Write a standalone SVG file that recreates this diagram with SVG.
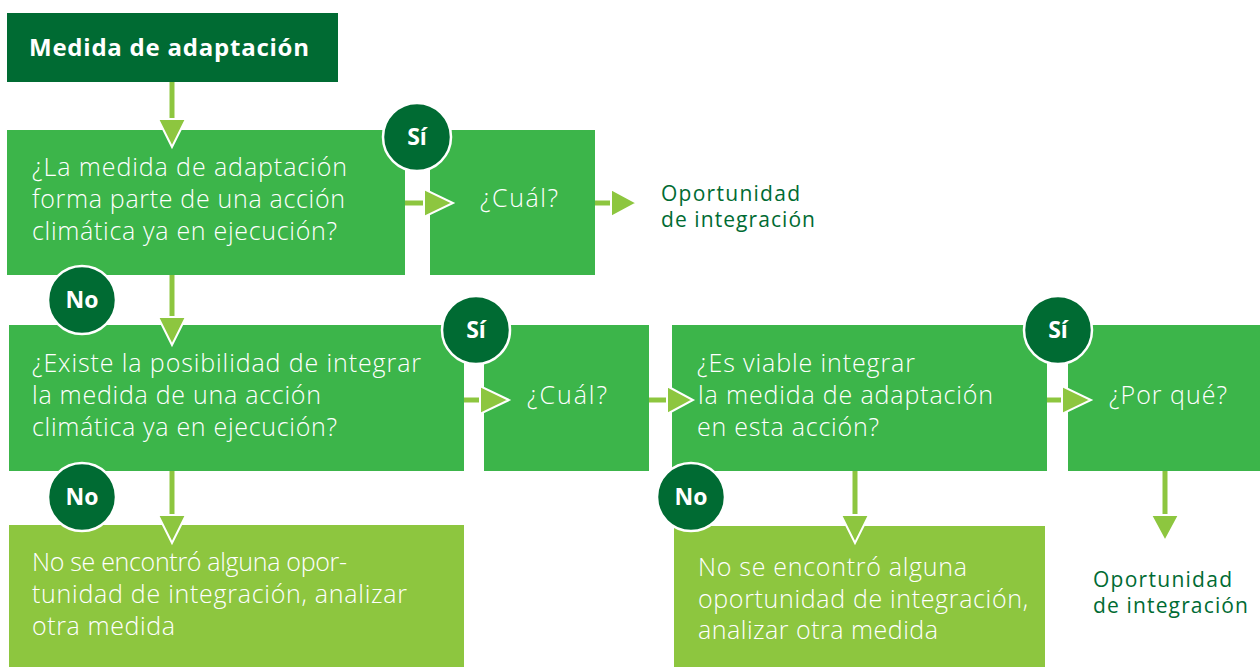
<svg xmlns="http://www.w3.org/2000/svg" width="1260" height="667" viewBox="0 0 1260 667">
<style>
.dark{fill:#006b33}
.mid{fill:#3cb54a}
.light{fill:#8dc63f}
.t{font-family:"Open Sans",sans-serif;font-size:25px;font-weight:300;fill:#ffffff}
.title{font-family:"Open Sans",sans-serif;font-size:24px;font-weight:bold;fill:#ffffff}
.out{font-family:"Open Sans",sans-serif;font-size:21px;font-weight:400;fill:#006b33}
.badge{fill:#006b33;stroke:#ffffff;stroke-width:2.5}
.bt{font-family:"Open Sans",sans-serif;font-size:23px;font-weight:bold;fill:#ffffff;text-anchor:middle}
.ln{stroke:#8dc63f;stroke-width:5;fill:none}
.hd{fill:#8dc63f;stroke:#ffffff;stroke-width:2}
</style>
<rect width="1260" height="667" fill="#ffffff"/>
<g id="n-start">
<rect class="dark" x="7" y="13" width="331" height="69"/>
<text class="title" x="29" y="56" textLength="280" lengthAdjust="spacing">Medida de adaptación</text>
</g>
<g id="n-q1">
<rect class="mid" x="7" y="130" width="398" height="145"/>
<text class="t" x="32" y="176" textLength="315" lengthAdjust="spacing">¿La medida de adaptación</text>
<text class="t" x="32" y="208" textLength="313" lengthAdjust="spacing">forma parte de una acción</text>
<text class="t" x="32" y="240" textLength="305" lengthAdjust="spacing">climática ya en ejecución?</text>
</g>
<g id="n-cual1">
<rect class="mid" x="430" y="130" width="165" height="145"/>
<text class="t" x="480" y="207" textLength="78" lengthAdjust="spacing">¿Cuál?</text>
</g>
<g id="n-op1">
<text class="out" x="661" y="201" textLength="139" lengthAdjust="spacing">Oportunidad</text>
<text class="out" x="661" y="227" textLength="154" lengthAdjust="spacing">de integración</text>
</g>
<g id="n-q2">
<rect class="mid" x="9" y="325" width="455" height="146"/>
<text class="t" x="32" y="372" textLength="389" lengthAdjust="spacing">¿Existe la posibilidad de integrar</text>
<text class="t" x="32" y="404" textLength="289" lengthAdjust="spacing">la medida de una acción</text>
<text class="t" x="32" y="436" textLength="305" lengthAdjust="spacing">climática ya en ejecución?</text>
</g>
<g id="n-cual2">
<rect class="mid" x="484" y="325" width="165" height="146"/>
<text class="t" x="527" y="404" textLength="80" lengthAdjust="spacing">¿Cuál?</text>
</g>
<g id="n-q3">
<rect class="mid" x="672" y="325" width="375" height="146"/>
<text class="t" x="697" y="372" textLength="218" lengthAdjust="spacing">¿Es viable integrar</text>
<text class="t" x="698" y="404" textLength="295" lengthAdjust="spacing">la medida de adaptación</text>
<text class="t" x="697" y="436" textLength="182" lengthAdjust="spacing">en esta acción?</text>
</g>
<g id="n-porque">
<rect class="mid" x="1068" y="325" width="192" height="146"/>
<text class="t" x="1109" y="404" textLength="118" lengthAdjust="spacing">¿Por qué?</text>
</g>
<g id="n-no1">
<rect class="light" x="9" y="525" width="455" height="142"/>
<text class="t" x="32" y="571" textLength="315" lengthAdjust="spacing">No se encontró alguna opor-</text>
<text class="t" x="32" y="603" textLength="375" lengthAdjust="spacing">tunidad de integración, analizar</text>
<text class="t" x="32" y="635" textLength="143" lengthAdjust="spacing">otra medida</text>
</g>
<g id="n-no2">
<rect class="light" x="674" y="526" width="371" height="141"/>
<text class="t" x="698" y="576" textLength="269" lengthAdjust="spacing">No se encontró alguna</text>
<text class="t" x="698" y="608" textLength="330" lengthAdjust="spacing">oportunidad de integración,</text>
<text class="t" x="698" y="639" textLength="240" lengthAdjust="spacing">analizar otra medida</text>
</g>
<g id="n-op2">
<text class="out" x="1093" y="587" textLength="139" lengthAdjust="spacing">Oportunidad</text>
<text class="out" x="1093" y="613" textLength="155" lengthAdjust="spacing">de integración</text>
</g>
<g id="connectors">
<line class="ln" x1="172" y1="82" x2="172" y2="121"/>
<polygon class="hd" points="158,119 186,119 172,147"/>
<line class="ln" x1="172" y1="275" x2="172" y2="319"/>
<polygon class="hd" points="158,317 186,317 172,345"/>
<line class="ln" x1="172" y1="471" x2="172" y2="517"/>
<polygon class="hd" points="158,515 186,515 172,543"/>
<line class="ln" x1="405" y1="203" x2="426" y2="203"/>
<polygon class="hd" points="424,189 424,217 453,203"/>
<line class="ln" x1="595" y1="203" x2="613" y2="203"/>
<polygon class="hd" points="611,189 611,217 637,203"/>
<line class="ln" x1="464" y1="400" x2="482" y2="400"/>
<polygon class="hd" points="480,386 480,414 509,400"/>
<line class="ln" x1="649" y1="400" x2="669" y2="400"/>
<polygon class="hd" points="667,386 667,414 693,400"/>
<line class="ln" x1="1047" y1="400" x2="1064" y2="400"/>
<polygon class="hd" points="1062,386 1062,414 1091,400"/>
<line class="ln" x1="855" y1="471" x2="855" y2="517"/>
<polygon class="hd" points="841,515 869,515 855,543"/>
<line class="ln" x1="1165" y1="471" x2="1165" y2="517"/>
<polygon class="hd" points="1151,515 1179,515 1165,541"/>
</g>
<g id="b-si1"><circle class="badge" cx="417" cy="137" r="34"/><text class="bt" x="417" y="145">Sí</text></g>
<g id="b-no1"><circle class="badge" cx="82" cy="300" r="34"/><text class="bt" x="82" y="308">No</text></g>
<g id="b-si2"><circle class="badge" cx="476" cy="330" r="34"/><text class="bt" x="476" y="338">Sí</text></g>
<g id="b-no2"><circle class="badge" cx="82" cy="497" r="34"/><text class="bt" x="82" y="505">No</text></g>
<g id="b-si3"><circle class="badge" cx="1058" cy="330" r="34"/><text class="bt" x="1058" y="338">Sí</text></g>
<g id="b-no3"><circle class="badge" cx="691" cy="497" r="34"/><text class="bt" x="691" y="505">No</text></g>
</svg>
